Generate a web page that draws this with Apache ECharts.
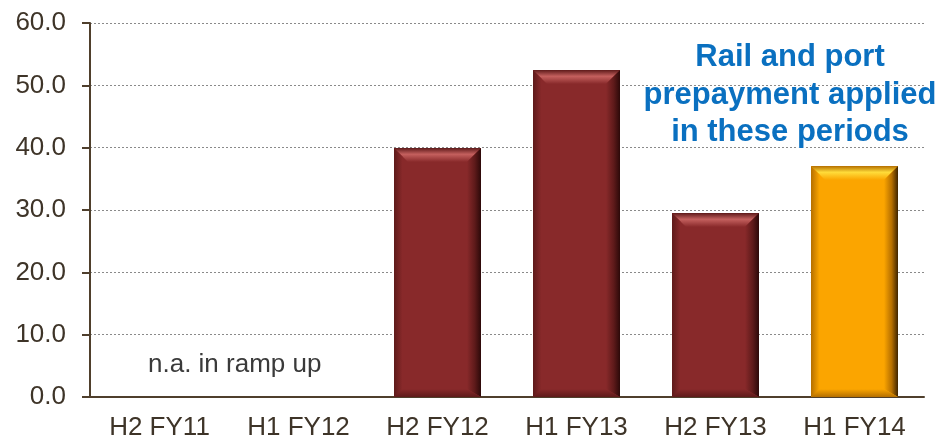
<!DOCTYPE html>
<html>
<head>
<meta charset="utf-8">
<script src="https://cdn.jsdelivr.net/npm/echarts@6/dist/echarts.min.js"></script>
<style>
  html, body { margin: 0; padding: 0; background: #fff; }
  #chart { width: 944px; height: 439px; }
</style>
</head>
<body>
<div id="chart"></div>
<script>
// Half-year periods and values (n.a. during ramp up)
const periods = ['H2 FY11', 'H1 FY12', 'H2 FY12', 'H1 FY13', 'H2 FY13', 'H1 FY14'];
const values = [null, null, 40.0, 52.4, 29.5, 37.0];
const prepaymentPeriod = [false, false, false, false, false, true];
const yTicks = { min: 0, max: 60, step: 10 };

const FONT = '"Liberation Sans", Arial, sans-serif';
const AXIS_COLOR = '#4f3f2c';
const LABEL_COLOR = '#3e3428';

const palettes = {
  normal: { base: '#88292a', light: '#c4605e', dark: '#2c0909', mid: '#5e1a1a' },
  highlight: { base: '#fba500', light: '#ffdc3a', dark: '#3e2400', mid: '#b56f00' }
};

function bevelBar(params, api) {
  const v = api.value(1);
  if (v == null || isNaN(v)) return;
  const top = api.coord([api.value(0), v]);
  const bottom = api.coord([api.value(0), 0]);
  const band = api.size([1, 0])[0];
  const w = band * 0.626;
  const x0 = Math.round(top[0] - w / 2), x1 = Math.round(top[0] + w / 2);
  const y0 = Math.round(top[1]), y1 = Math.round(bottom[1]);
  const b = Math.min(14, (x1 - x0) / 3, (y1 - y0) / 3);
  const bb = Math.min(8, (y1 - y0) / 4);
  const p = prepaymentPeriod[params.dataIndex] ? palettes.highlight : palettes.normal;
  const lin = (x, y, x2, y2, stops) => ({ type: 'linear', x, y, x2, y2, colorStops: stops });
  return {
    type: 'group',
    children: [
      { type: 'rect', shape: { x: x0, y: y0, width: x1 - x0, height: y1 - y0 }, style: { fill: p.base } },
      { type: 'polygon', shape: { points: [[x0, y0], [x1, y0], [x1 - b, y0 + b], [x0 + b, y0 + b]] },
        style: { fill: lin(0, 0, 0, 1, [{ offset: 0, color: p.mid }, { offset: 0.45, color: p.light }, { offset: 1, color: p.base }]) } },
      { type: 'polygon', shape: { points: [[x0, y0], [x0 + b * 0.6, y0 + b * 0.6], [x0 + b * 0.6, y1 - bb * 0.6], [x0, y1]] },
        style: { fill: lin(0, 0, 1, 0, [{ offset: 0, color: p.mid }, { offset: 1, color: p.base }]) } },
      { type: 'polygon', shape: { points: [[x1, y0], [x1, y1], [x1 - b, y1 - bb], [x1 - b, y0 + b]] },
        style: { fill: lin(0, 0, 1, 0, [{ offset: 0, color: p.base }, { offset: 0.55, color: p.mid }, { offset: 1, color: p.dark }]) } },
      { type: 'polygon', shape: { points: [[x0, y1], [x1, y1], [x1 - b, y1 - bb], [x0 + b * 0.6, y1 - bb]] },
        style: { fill: lin(0, 0, 0, 1, [{ offset: 0, color: p.base }, { offset: 1, color: p.mid }]) } }
    ]
  };
}

const chart = echarts.init(document.getElementById('chart'), null, { renderer: 'canvas' });
chart.setOption({
  animation: false,
  backgroundColor: '#ffffff',
  textStyle: { fontFamily: FONT },
  grid: { left: 90, right: 20, top: 23, bottom: 42, outerBoundsMode: 'none', containLabel: false },
  xAxis: {
    type: 'category',
    data: periods,
    boundaryGap: true,
    axisLine: { lineStyle: { color: AXIS_COLOR, width: 2 } },
    axisTick: { length: 8, lineStyle: { color: AXIS_COLOR, width: 2 } },
    axisLabel: { color: LABEL_COLOR, fontSize: 26, fontFamily: FONT, margin: 18 },
    splitLine: { show: false }
  },
  yAxis: {
    type: 'value',
    min: yTicks.min,
    max: yTicks.max,
    interval: yTicks.step,
    axisLine: { show: true, lineStyle: { color: AXIS_COLOR, width: 2 } },
    axisTick: { show: true, length: 8, lineStyle: { color: AXIS_COLOR, width: 2 } },
    axisLabel: { color: LABEL_COLOR, fontSize: 26, fontFamily: FONT, margin: 24,
                 formatter: v => v.toFixed(1) },
    splitLine: { show: true, lineStyle: { color: '#8a8a8a', type: [2, 2], width: 1 } }
  },
  series: [{
    type: 'custom',
    renderItem: bevelBar,
    encode: { x: 0, y: 1 },
    data: values.map((v, i) => [i, v]),
    z: 3
  }],
  graphic: [
    { type: 'text', left: 148, top: 352, z: 5,
      style: { text: 'n.a. in ramp up', fill: '#3a3a3a', font: '26px ' + FONT } },
    { type: 'text', x: 790, y: 39, z: 5,
      style: { text: 'Rail and port\nprepayment applied\nin these periods', fill: '#0a70c0',
               font: 'bold 31px ' + FONT, align: 'center', lineHeight: 37.5,
               stroke: '#ffffff', lineWidth: 2 } }
  ]
});
</script>
</body>
</html>
